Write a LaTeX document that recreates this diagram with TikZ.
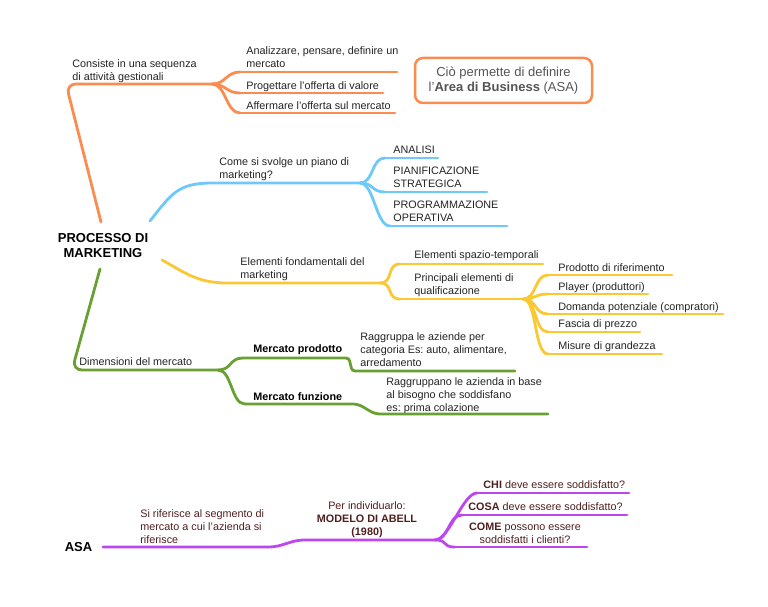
\documentclass[tikz,border=0pt]{standalone}
\usepackage{fontspec}
\setmainfont{Liberation Sans}
\usepackage{tikz}
\frenchspacing

\definecolor{orngc}{RGB}{250,140,80}
\definecolor{bluc}{RGB}{110,200,250}
\definecolor{ylwc}{RGB}{250,200,50}
\definecolor{grnc}{RGB}{105,160,50}
\definecolor{prpc}{RGB}{190,70,240}
\definecolor{ink}{RGB}{35,35,35}
\definecolor{mrn}{RGB}{80,30,30}
\definecolor{boxgray}{RGB}{85,85,85}

\newcommand{\mfont}{\fontsize{10.8}{13}\selectfont}
\newcommand{\bigfont}{\fontsize{13}{15}\selectfont\bfseries}
\newcommand{\boxfont}{\fontsize{13}{15}\selectfont}

\begin{document}
\begin{tikzpicture}[x=1pt,y=-1pt,line width=2.8pt,line cap=round,
  lbl/.style={anchor=north west,inner sep=0pt,align=left,font=\mfont,text=ink,yshift=1.5pt},
  root/.style={align=center,inner sep=0pt,font=\bigfont,text=black},
  asab/.style={draw=orngc,line width=2.5pt,rounded corners=8pt,minimum width=177pt,
    minimum height=45pt,align=center,font=\boxfont,text=boxgray},
  br/.style={to path={.. controls +(14,0) and +(-14,0) .. (\tikztotarget)}},
  orng/.style={draw=orngc},
  blu/.style={draw=bluc},
  ylw/.style={draw=ylwc},
  grn/.style={draw=grnc},
  prp/.style={draw=prpc}]
\useasboundingbox (0,0) rectangle (768,607);

% root
\node[root] (proc) at (103,246) {PROCESSO DI\\MARKETING};

% orange
\coordinate (o0) at (101,222);
\coordinate (o1) at (66,84);
\coordinate (f1) at (212,84);
\coordinate (a1s) at (240,72);  \coordinate (a1e) at (397,72);
\coordinate (a2s) at (240,93);  \coordinate (a2e) at (383,93);
\coordinate (a3s) at (240,113); \coordinate (a3e) at (395,113);
\node[lbl] (cons) at (71,60) {Consiste in una sequenza\\di attività gestionali};
\node[lbl] (anal) at (245,47) {Analizzare, pensare, definire un\\mercato};
\node[lbl] (prog) at (245,82) {Progettare l'offerta di valore};
\node[lbl] (aff) at (245,102) {Affermare l'offerta sul mercato};
\node[asab] (asabox) at (503.5,80.5) {Ciò permette di definire\\l'\textbf{Area di Business} (ASA)};
\draw[orng,rounded corners=10pt] (o0) -- (o1) -- (f1);
\path[orng] (f1) edge[br] (a1s) edge[br] (a2s) edge[br] (a3s)
  (a1s) edge (a1e)
  (a2s) edge (a2e)
  (a3s) edge (a3e);

% blue
\coordinate (b0) at (150,221);
\coordinate (b1) at (213,183);
\coordinate (f2) at (360,183);
\coordinate (c1s) at (385,158); \coordinate (c1e) at (438,158);
\coordinate (c2s) at (385,192); \coordinate (c2e) at (487,192);
\coordinate (c3s) at (390,226); \coordinate (c3e) at (507,226);
\node[lbl] (come) at (218,158) {Come si svolge un piano di\\marketing?};
\node[lbl] (ana) at (392,146) {ANALISI};
\node[lbl] (pian) at (392,167) {PIANIFICAZIONE\\STRATEGICA};
\node[lbl] (prgm) at (392,201) {PROGRAMMAZIONE\\OPERATIVA};
\draw[blu] (b0) .. controls +(22,-28) and +(-35,0) .. (b1) -- (f2);
\path[blu] (f2) edge[br] (c1s) edge[br] (c2s) edge[br] (c3s)
  (c1s) edge (c1e)
  (c2s) edge (c2e)
  (c3s) edge (c3e);

% yellow
\coordinate (y0) at (162,260);
\coordinate (y1) at (227,283);
\coordinate (f3) at (380,283);
\coordinate (d1s) at (400,264); \coordinate (d1e) at (543,264);
\coordinate (d2s) at (400,299); \coordinate (f4) at (523,299);
\coordinate (e1s) at (548,275); \coordinate (e1e) at (672,275);
\coordinate (e2s) at (548,294); \coordinate (e2e) at (648,294);
\coordinate (e3s) at (548,314); \coordinate (e3e) at (723,314);
\coordinate (e4s) at (548,332); \coordinate (e4e) at (640,332);
\coordinate (e5s) at (548,354); \coordinate (e5e) at (662,354);
\node[lbl] (elem) at (239,258) {Elementi fondamentali del\\marketing};
\node[lbl] (spaz) at (413,251) {Elementi spazio-temporali};
\node[lbl] (princ) at (413,274) {Principali elementi di\\qualificazione};
\node[lbl] (prod) at (557,263.5) {Prodotto di riferimento};
\node[lbl] (play) at (557,283) {Player (produttori)};
\node[lbl] (dom) at (557,302.5) {Domanda potenziale (compratori)};
\node[lbl] (fasc) at (557,320) {Fascia di prezzo};
\node[lbl] (mis) at (557,342) {Misure di grandezza};
\draw[ylw] (y0) .. controls +(22,12) and +(-30,0) .. (y1) -- (f3);
\path[ylw] (f3) edge[br] (d1s) edge[br] (d2s)
  (d1s) edge (d1e)
  (d2s) edge (f4)
  (f4) edge[br] (e1s) edge[br] (e2s) edge[br] (e3s) edge[br] (e4s) edge[br] (e5s)
  (e1s) edge (e1e)
  (e2s) edge (e2e)
  (e3s) edge (e3e)
  (e4s) edge (e4e)
  (e5s) edge (e5e);

% green
\coordinate (g0) at (100,269);
\coordinate (g1) at (72,370);
\coordinate (f5) at (218,370);
\coordinate (h1s) at (243,358); \coordinate (h1b) at (349,358);
\coordinate (h1c) at (352,371); \coordinate (h1e) at (515,371);
\coordinate (h2s) at (245,404); \coordinate (h2b) at (358,404);
\coordinate (h2c) at (375,414); \coordinate (h2e) at (548,414);
\node[lbl] (dim) at (78,358) {Dimensioni del mercato};
\node[lbl,font=\mfont\bfseries,text=black] (mprod) at (252,345) {Mercato prodotto};
\node[lbl] (ragg) at (359,333) {Raggruppa le aziende per\\categoria Es: auto, alimentare,\\arredamento};
\node[lbl,font=\mfont\bfseries,text=black] (mfun) at (252,393) {Mercato funzione};
\node[lbl] (raggf) at (385,378) {Raggruppano le azienda in base\\al bisogno che soddisfano\\es: prima colazione};
\draw[grn,rounded corners=10pt] (g0) -- (g1) -- (f5);
\path[grn] (f5) edge[br] (h1s) edge[br] (h2s);
\draw[grn,rounded corners=3pt] (h1s) -- (h1b) -- (h1c) -- (h1e);
\draw[grn,rounded corners=5pt] (h2s) -- (h2b) -- (h2c) -- (h2e);

% purple
\node[root] (asa) at (78.5,547) {ASA};
\coordinate (p0) at (103,547);
\coordinate (p1) at (275,547);
\coordinate (p2) at (298,540);
\coordinate (f6) at (435,540);
\coordinate (q1s) at (477,493); \coordinate (q1e) at (629,493);
\coordinate (q2s) at (462,515); \coordinate (q2e) at (627,515);
\coordinate (q3s) at (455,547); \coordinate (q3e) at (587,547);
\node[lbl,text=mrn] (rif) at (139,510) {Si riferisce al segmento di\\mercato a cui l'azienda si\\riferisce};
\node[lbl,anchor=north,align=center,text=mrn] (abell) at (367,502) {Per individuarlo:\\\textbf{MODELO DI ABELL}\\\textbf{(1980)}};
\node[lbl,text=mrn] (chi) at (482,481) {\textbf{CHI} deve essere soddisfatto?};
\node[lbl,text=mrn] (cosa) at (467,502.5) {\textbf{COSA} deve essere soddisfatto?};
\node[lbl,anchor=north,align=center,text=mrn] (come2) at (525,523) {\textbf{COME} possono essere\\soddisfatti i clienti?};
\draw[prp,rounded corners=6pt] (p0) -- (p1) -- (p2) -- (f6);
\path[prp] (f6) edge[br] (q1s) edge[br] (q2s) edge[br] (q3s)
  (q1s) edge (q1e)
  (q2s) edge (q2e)
  (q3s) edge (q3e);
\end{tikzpicture}
\end{document}
